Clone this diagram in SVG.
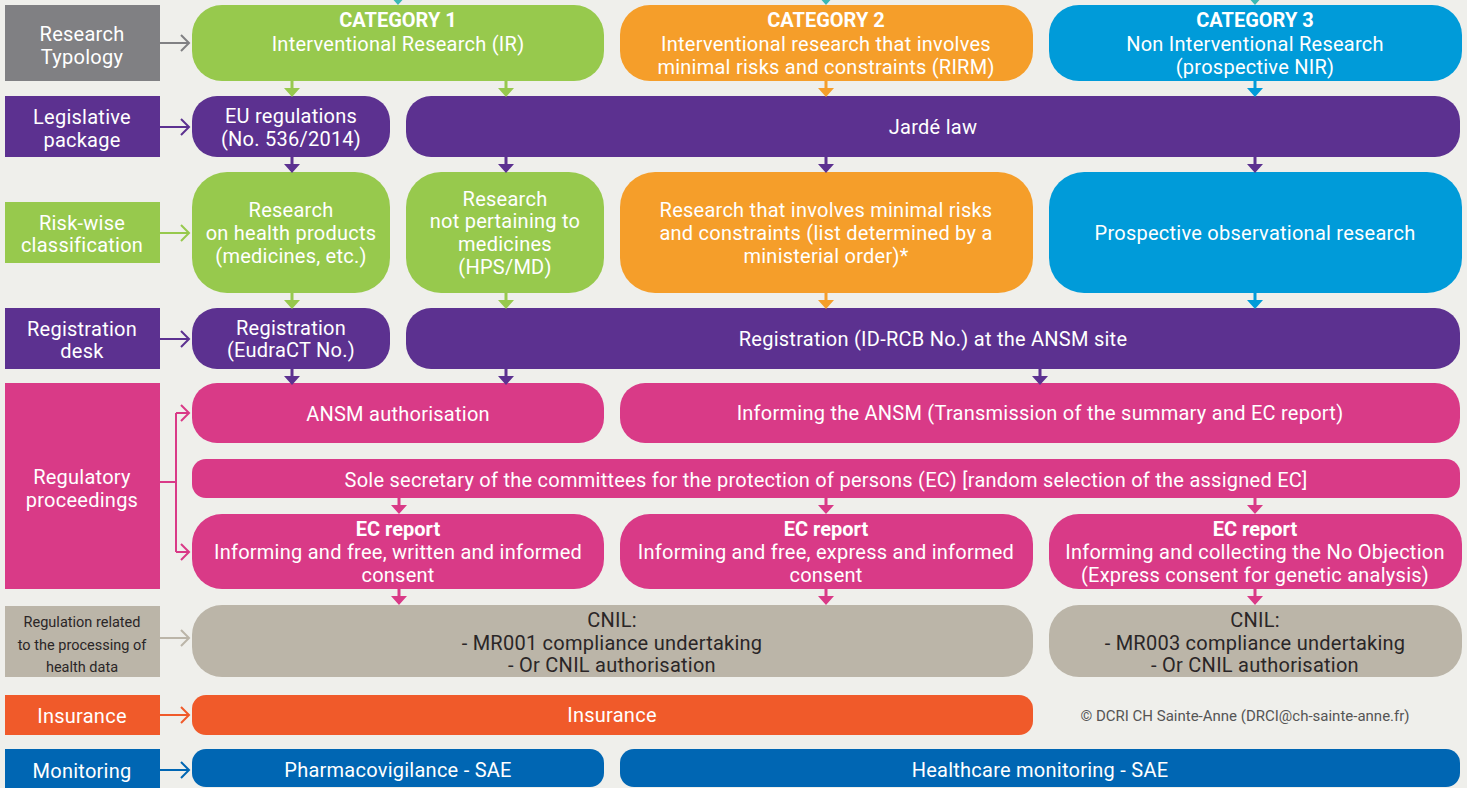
<svg xmlns="http://www.w3.org/2000/svg" width="1467" height="788" viewBox="0 0 1467 788">
  <style>
    text { font-family: Roboto, "Liberation Sans", sans-serif; font-size: 20px; letter-spacing: 0.25px; fill: #ffffff; text-anchor: middle; }
    .b { font-weight: bold; font-size: 20px; letter-spacing: 0; }
    .dark { fill: #2a2627; }
    .small { font-size: 14.5px; letter-spacing: 0; }
    .copy { font-size: 15px; letter-spacing: 0; fill: #555555; }
    .gray { fill: #808083; }
    .purple { fill: #5c3190; }
    .green { fill: #97c94d; }
    .orange { fill: #f59e2a; }
    .blue { fill: #009bd9; }
    .pink { fill: #d93a87; }
    .beige { fill: #bbb5a8; }
    .red { fill: #f05a2a; }
    .navy { fill: #0066b3; }
    .teal { fill: #3cb8b4; }
    .lk { fill: none; stroke-width: 2; }
  </style>
  <defs>
    <!-- small downward arrow: stem + triangle, origin at stem top -->
    <path id="down" d="M-1.5 0 H1.5 V7 H8 L0 16 L-8 7 H-1.5 Z"/>
  </defs>
  <rect width="1467" height="788" fill="#efefeb"/>

  <!-- row labels -->
  <g id="lbl-typology"><rect class="gray" x="5" y="5" width="155" height="76"/><text x="82" y="41">Research</text><text x="82" y="64">Typology</text></g>
  <g id="lbl-legislative"><rect class="purple" x="5" y="96" width="155" height="61"/><text x="82" y="124">Legislative</text><text x="82" y="147">package</text></g>
  <g id="lbl-risk"><rect class="green" x="5" y="202" width="155" height="61"/><text x="82" y="230">Risk-wise</text><text x="82" y="252">classification</text></g>
  <g id="lbl-registration"><rect class="purple" x="5" y="308" width="155" height="61"/><text x="82" y="336">Registration</text><text x="82" y="358">desk</text></g>
  <g id="lbl-regulatory"><rect class="pink" x="5" y="383" width="155" height="206"/><text x="82" y="484">Regulatory</text><text x="82" y="507">proceedings</text></g>
  <g id="lbl-data"><rect class="beige" x="5" y="606" width="155" height="71"/><text class="small dark" x="82" y="627">Regulation related</text><text class="small dark" x="82" y="650">to the processing of</text><text class="small dark" x="82" y="672">health data</text></g>
  <g id="lbl-insurance"><rect class="red" x="5" y="695" width="155" height="40"/><text x="82" y="723">Insurance</text></g>
  <g id="lbl-monitoring"><rect class="navy" x="5" y="749" width="155" height="39"/><text x="82" y="778">Monitoring</text></g>

  <!-- row 1: categories -->
  <g id="cat1"><rect class="green" x="192" y="5" width="412" height="76" rx="30"/><text class="b" x="398" y="27">CATEGORY 1</text><text x="398" y="51">Interventional Research (IR)</text></g>
  <g id="cat2"><rect class="orange" x="620" y="5" width="413" height="76" rx="30"/><text class="b" x="826" y="27">CATEGORY 2</text><text x="826" y="51">Interventional research that involves</text><text x="826" y="74">minimal risks and constraints (RIRM)</text></g>
  <g id="cat3"><rect class="blue" x="1049" y="5" width="413" height="76" rx="30"/><text class="b" x="1255" y="27">CATEGORY 3</text><text x="1255" y="51">Non Interventional Research</text><text x="1255" y="74">(prospective NIR)</text></g>

  <!-- row 2: legislation -->
  <g id="eu-reg"><rect class="purple" x="192" y="96" width="198" height="61" rx="25"/><text x="291" y="123">EU regulations</text><text x="291" y="146">(No. 536/2014)</text></g>
  <g id="jarde"><rect class="purple" x="406" y="96" width="1054" height="61" rx="25"/><text x="933" y="134">Jardé law</text></g>

  <!-- row 3: risk classes -->
  <g id="health-products"><rect class="green" x="192" y="172" width="198" height="121" rx="35"/><text x="291" y="217">Research</text><text x="291" y="240">on health products</text><text x="291" y="263">(medicines, etc.)</text></g>
  <g id="non-medicines"><rect class="green" x="406" y="172" width="198" height="121" rx="35"/><text x="505" y="206">Research</text><text x="505" y="228">not pertaining to</text><text x="505" y="251">medicines</text><text x="505" y="274">(HPS/MD)</text></g>
  <g id="minimal-risk"><rect class="orange" x="620" y="172" width="413" height="121" rx="35"/><text x="826" y="217">Research that involves minimal risks</text><text x="826" y="240">and constraints (list determined by a</text><text x="826" y="263">ministerial order)*</text></g>
  <g id="observational"><rect class="blue" x="1049" y="172" width="413" height="121" rx="35"/><text x="1255" y="240">Prospective observational research</text></g>

  <!-- row 4: registration -->
  <g id="eudract"><rect class="purple" x="192" y="308" width="198" height="61" rx="25"/><text x="291" y="335">Registration</text><text x="291" y="357">(EudraCT No.)</text></g>
  <g id="idrcb"><rect class="purple" x="406" y="308" width="1054" height="61" rx="25"/><text x="933" y="346">Registration (ID-RCB No.) at the ANSM site</text></g>

  <!-- row 5-7: regulatory proceedings -->
  <g id="ansm-auth"><rect class="pink" x="192" y="383" width="412" height="60" rx="25"/><text x="398" y="421">ANSM authorisation</text></g>
  <g id="ansm-info"><rect class="pink" x="620" y="383" width="840" height="60" rx="25"/><text x="1040" y="420">Informing the ANSM (Transmission of the summary and EC report)</text></g>
  <g id="sole-secretary"><rect class="pink" x="192" y="459" width="1268" height="39" rx="14"/><text x="826" y="487">Sole secretary of the committees for the protection of persons (EC) [random selection of the assigned EC]</text></g>
  <g id="ec1"><rect class="pink" x="192" y="514" width="412" height="75" rx="30"/><text class="b" x="398" y="536">EC report</text><text x="398" y="559">Informing and free, written and informed</text><text x="398" y="582">consent</text></g>
  <g id="ec2"><rect class="pink" x="620" y="514" width="413" height="75" rx="30"/><text class="b" x="826" y="536">EC report</text><text x="826" y="559">Informing and free, express and informed</text><text x="826" y="582">consent</text></g>
  <g id="ec3"><rect class="pink" x="1049" y="514" width="413" height="75" rx="30"/><text class="b" x="1255" y="536">EC report</text><text x="1255" y="559">Informing and collecting the No Objection</text><text x="1255" y="582">(Express consent for genetic analysis)</text></g>

  <!-- row 8: data protection -->
  <g id="cnil1"><rect class="beige" x="192" y="605" width="841" height="72" rx="30"/><text class="dark" x="612" y="627">CNIL:</text><text class="dark" x="612" y="650">- MR001 compliance undertaking</text><text class="dark" x="612" y="672">- Or CNIL authorisation</text></g>
  <g id="cnil2"><rect class="beige" x="1049" y="605" width="413" height="72" rx="30"/><text class="dark" x="1255" y="627">CNIL:</text><text class="dark" x="1255" y="650">- MR003 compliance undertaking</text><text class="dark" x="1255" y="672">- Or CNIL authorisation</text></g>

  <!-- row 9-10 -->
  <g id="insurance"><rect class="red" x="192" y="695" width="841" height="40" rx="14"/><text x="612" y="722">Insurance</text></g>
  <text class="copy" x="1245" y="721">© DCRI CH Sainte-Anne (DRCI@ch-sainte-anne.fr)</text>
  <g id="pharmacovigilance"><rect class="navy" x="192" y="749" width="412" height="38" rx="14"/><text x="398" y="777">Pharmacovigilance - SAE</text></g>
  <g id="healthcare-monitoring"><rect class="navy" x="620" y="749" width="840" height="38" rx="14"/><text x="1040" y="777">Healthcare monitoring - SAE</text></g>

  <!-- connectors -->
  <g id="connectors">
    <!-- label arrows -->
    <path class="lk" stroke="#808083" d="M160 43 H189 M181 35 L189 43 L181 51"/>
    <path class="lk" stroke="#5c3190" d="M160 127 H189 M181 119 L189 127 L181 135"/>
    <path class="lk" stroke="#97c94d" d="M160 233 H189 M181 225 L189 233 L181 241"/>
    <path class="lk" stroke="#5c3190" d="M160 339 H189 M181 331 L189 339 L181 347"/>
    <path class="lk" stroke="#d93a87" d="M160 482 H176 M176 413 V552 M176 413 H189 M181 405 L189 413 L181 421 M176 552 H189 M181 544 L189 552 L181 560"/>
    <path class="lk" stroke="#bbb5a8" d="M160 638 H189 M181 630 L189 638 L181 646"/>
    <path class="lk" stroke="#f05a2a" d="M160 715 H189 M181 707 L189 715 L181 723"/>
    <path class="lk" stroke="#0066b3" d="M160 770 H189 M181 762 L189 770 L181 778"/>

    <!-- incoming at top -->
    <use href="#down" class="teal" x="398" y="-11"/>
    <use href="#down" class="teal" x="826" y="-11"/>
    <use href="#down" class="teal" x="1255" y="-11"/>

    <!-- categories to legislation -->
    <use href="#down" class="green" x="292" y="81"/>
    <use href="#down" class="green" x="506" y="81"/>
    <use href="#down" class="orange" x="826" y="81"/>
    <use href="#down" class="blue" x="1255" y="81"/>

    <!-- legislation to risk classes -->
    <use href="#down" class="purple" x="292" y="157"/>
    <use href="#down" class="purple" x="506" y="157"/>
    <use href="#down" class="purple" x="826" y="157"/>
    <use href="#down" class="purple" x="1255" y="157"/>

    <!-- risk classes to registration -->
    <use href="#down" class="green" x="292" y="293"/>
    <use href="#down" class="green" x="506" y="293"/>
    <use href="#down" class="orange" x="826" y="293"/>
    <use href="#down" class="blue" x="1255" y="293"/>

    <!-- registration to proceedings -->
    <use href="#down" class="purple" x="292" y="369"/>
    <use href="#down" class="purple" x="506" y="369"/>
    <use href="#down" class="purple" x="1040" y="369"/>

    <!-- secretary to EC reports -->
    <use href="#down" class="pink" x="399" y="498"/>
    <use href="#down" class="pink" x="826" y="498"/>
    <use href="#down" class="pink" x="1255" y="498"/>

    <!-- EC reports to CNIL -->
    <use href="#down" class="pink" x="399" y="589"/>
    <use href="#down" class="pink" x="826" y="589"/>
    <use href="#down" class="pink" x="1255" y="589"/>
  </g>
</svg>
